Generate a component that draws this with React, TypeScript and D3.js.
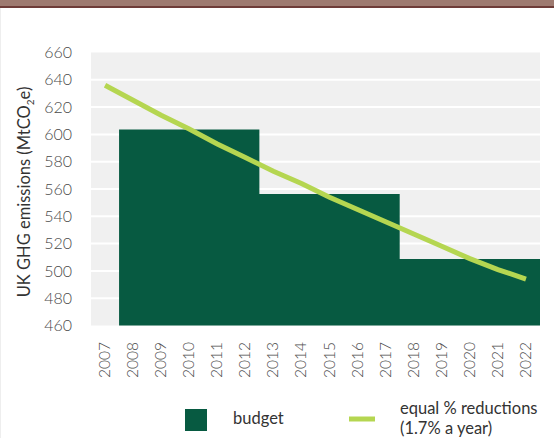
import React from "react";
import * as d3 from "d3";

const years = ["2007","2008","2009","2010","2011","2012","2013","2014","2015","2016","2017","2018","2019","2020","2021","2022"];
const budgetStart = ["2008", "2013", "2018"];
const budgetEnd = ["2012", "2017", "2022"];
const budgetValues = [603.6, 556.4, 508.8];
const lineValues = [636, 625, 614, 604, 593, 583, 573, 564, 554, 545, 536, 527, 518, 509, 501, 494];
const yTicks = [460, 480, 500, 520, 540, 560, 580, 600, 620, 640, 660];

const W = 554, H = 438;
const left = 91, right = 540, top = 52.5, bottom = 325.5;
const FONT = "'Lato', 'Open Sans', sans-serif";

export default function App() {
  const x = d3.scaleBand<string>().domain(years).range([left, right]).padding(0);
  const y = d3.scaleLinear().domain([460, 660]).range([bottom, top]);
  const line = d3.line<number>()
    .x((_, i) => (x(years[i]) as number) + x.bandwidth() / 2)
    .y((d) => y(d));

  // budgets as one stepped path (no seams)
  let barPath = `M${x(budgetStart[0])},${bottom}`;
  budgetValues.forEach((v, i) => {
    const x0 = x(budgetStart[i]) as number;
    const x1 = (x(budgetEnd[i]) as number) + x.bandwidth();
    barPath += `L${x0},${y(v)}L${x1},${y(v)}`;
  });
  barPath += `L${(x(budgetEnd[budgetEnd.length - 1]) as number) + x.bandwidth()},${bottom}Z`;

  return (
    <svg width={W} height={H} style={{ position: "absolute", left: 0, top: 0, background: "#fff" }}>
      <rect x={0} y={0} width={W} height={6} fill="#9e7a70" />
      <rect x={0} y={6} width={W} height={2} fill="#6e3c38" />
      <rect x={0} y={8} width={1} height={H - 8} fill="#eeeeee" />
      <rect x={left} y={top} width={right - left} height={bottom - top} fill="#f0f0f0" />
      {yTicks.slice(1, -1).map((t) => (
        <line key={t} x1={left} x2={right} y1={y(t)} y2={y(t)} stroke="#fff" strokeWidth={2} />
      ))}
      <path d={barPath} fill="#075a41" />
      <path d={line(lineValues) || ""} fill="none" stroke="#b5d651" strokeWidth={5} />
      {yTicks.map((t) => (
        <text key={t} x={72} y={y(t)} dy="0.35em" textAnchor="end" fontFamily={FONT} fontWeight={300} fontSize={16} fill="#4a4a4a">{t}</text>
      ))}
      {years.map((yr) => {
        const cx = (x(yr) as number) + x.bandwidth() / 2;
        return (
          <text key={yr} transform={`translate(${cx + 5},342) rotate(-90)`} textAnchor="end" fontFamily={FONT} fontWeight={300} fontSize={15.5} fill="#4a4a4a">{yr}</text>
        );
      })}
      <text transform="translate(30,192) rotate(-90)" textAnchor="middle" fontFamily={FONT} fontSize={16.5} fill="#333">
        UK GHG emissions (MtCO<tspan fontSize={10} dy={4}>2</tspan><tspan dy={-4}>e)</tspan>
      </text>
      <rect x={185} y={409} width={22} height={22} fill="#075a41" />
      <text x={233} y={424} fontFamily={FONT} fontSize={16.5} fill="#333">budget</text>
      <line x1={349} x2={375} y1={419} y2={419} stroke="#b5d651" strokeWidth={5} />
      <text x={400} y={414} fontFamily={FONT} fontSize={16.5} fill="#333">equal % reductions</text>
      <text x={400} y={434} fontFamily={FONT} fontSize={16.5} fill="#333">(1.7% a year)</text>
    </svg>
  );
}
